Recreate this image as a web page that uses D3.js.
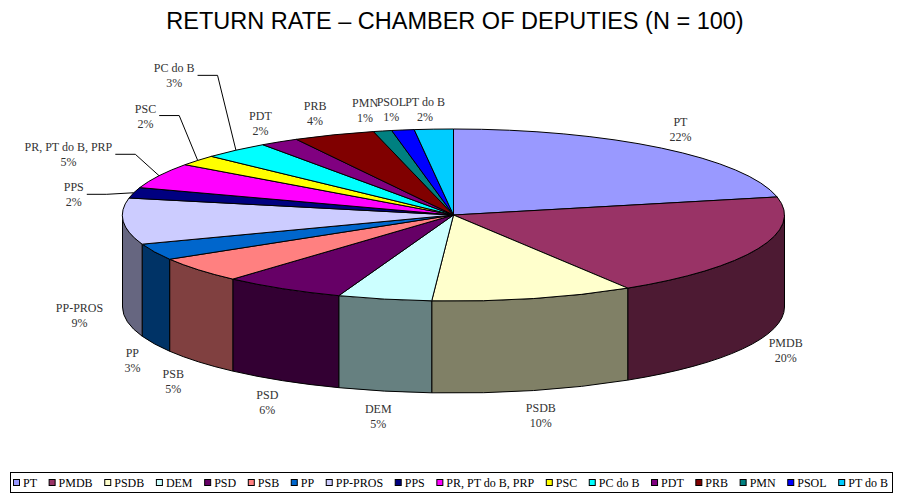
<!DOCTYPE html>
<html>
<head>
<meta charset="utf-8">
<script src="https://cdn.jsdelivr.net/npm/d3@7"></script>
<style>
  body { margin: 0; background: #fff; }
  svg { display: block; }
</style>
</head>
<body>
<div id="pie-chart"></div>
<script>
  const parties = ["PT", "PMDB", "PSDB", "DEM", "PSD", "PSB", "PP", "PP-PROS", "PPS",
    "PR, PT do B, PRP", "PSC", "PC do B", "PDT", "PRB", "PMN", "PSOL", "PT do B"];
  const values = [21.7, 19.6, 9.9, 4.6, 6.0, 4.8, 3.1, 8.7, 2.0, 4.8, 2.0, 3.3, 1.9, 4.0, 0.9, 1.1, 1.9];
  const colors = ["#9999FF", "#993366", "#FFFFCC", "#CCFFFF", "#660066", "#FF8080", "#0066CC",
    "#CCCCFF", "#000080", "#FF00FF", "#FFFF00", "#00FFFF", "#800080", "#800000", "#008080",
    "#0000FF", "#00CCFF"];

  // labels that were dragged by hand in the original (offset in px), some with leader lines
  const labelNudge = {
    "PP-PROS": [-14, 0], "PPS": [-31, 8], "PR, PT do B, PRP": [-64, -10], "PSC": [-29, -29],
    "PC do B": [-42, -56], "PDT": [-3, 2], "PRB": [-8, 2], "PMN": [-11, 3], "PSOL": [-7, 4],
    "PT do B": [-7, 5], "PP": [5, 5], "PSB": [-2, 3]
  };
  const leaders = ["PPS", "PR, PT do B, PRP", "PSC", "PC do B"];

  function drawPie() {
    const width = 897;
    const height = 494;
    const cx = 453.5, cy = 215, rx = 331, ry = 86, depth = 92;

    const svg = d3.select("#pie-chart")
      .append("svg")
      .attr("width", width)
      .attr("height", height);

    svg.append("rect").attr("width", width).attr("height", height).attr("fill", "#fff");

    svg.append("text")
      .attr("x", 455)
      .attr("y", 29)
      .attr("text-anchor", "middle")
      .style("font-family", "Liberation Sans, Arial, sans-serif")
      .style("font-size", "23.5px")
      .text("RETURN RATE \u2013 CHAMBER OF DEPUTIES (N = 100)");

    const data = parties.map((p, i) => ({ name: p, value: values[i], color: colors[i] }));
    const total = d3.sum(values);
    const arcs = d3.pie().sort(null).value(d => d.value)(data);

    const pt = (a, dy = 0) => [cx + rx * Math.sin(a), cy - ry * Math.cos(a) + dy];

    // side walls, only the front half is visible
    const walls = svg.append("g");
    arcs.forEach(d => {
      const b0 = Math.max(d.startAngle, Math.PI / 2);
      const b1 = Math.min(d.endAngle, 3 * Math.PI / 2);
      if (b1 <= b0) return;
      const c = d3.rgb(d.data.color);
      const side = d3.rgb(c.r * 0.5, c.g * 0.5, c.b * 0.5);
      const path = `M${pt(b0)} A${rx},${ry} 0 0 1 ${pt(b1)} L${pt(b1, depth)} A${rx},${ry} 0 0 0 ${pt(b0, depth)} Z`;
      walls.append("path")
        .attr("d", path)
        .attr("fill", side)
        .attr("stroke", "#000")
        .attr("stroke-width", 1)
        .attr("stroke-linejoin", "round");
    });

    // top face
    svg.append("g")
      .selectAll("path")
      .data(arcs)
      .join("path")
      .attr("d", d => {
        const large = d.endAngle - d.startAngle > Math.PI ? 1 : 0;
        return `M${cx},${cy} L${pt(d.startAngle)} A${rx},${ry} 0 ${large} 1 ${pt(d.endAngle)} Z`;
      })
      .attr("fill", d => d.data.color)
      .attr("stroke", "#000")
      .attr("stroke-width", 1)
      .attr("stroke-linejoin", "round");

    // data labels
    const labels = svg.append("g")
      .style("font-family", "Liberation Serif, 'Times New Roman', serif")
      .style("font-size", "12px")
      .attr("fill", "#333");

    arcs.forEach(d => {
      const a = (d.startAngle + d.endAngle) / 2;
      const nudge = labelNudge[d.data.name] || [0, 0];
      let lx = cx + (rx + 30) * Math.sin(a) + nudge[0];
      let ly = cy - (ry + 25) * Math.cos(a) + (Math.cos(a) < 0 ? depth : 0) + nudge[1];

      const g = labels.append("g");
      const name = g.append("text")
        .attr("x", lx).attr("y", ly - 3)
        .attr("text-anchor", "middle")
        .text(d.data.name);
      g.append("text")
        .attr("x", lx).attr("y", ly + 12)
        .attr("text-anchor", "middle")
        .text(Math.round(d.value / total * 100) + "%");

      if (leaders.includes(d.data.name)) {
        const right = lx + name.node().getComputedTextLength() / 2 + 3;
        const edge = pt(a);
        svg.append("polyline")
          .attr("points", `${right},${ly} ${right + 20},${ly} ${edge}`)
          .attr("fill", "none")
          .attr("stroke", "#000")
          .attr("stroke-width", 1);
      }
    });

    // legend
    const legend = svg.append("g")
      .style("font-family", "Liberation Serif, 'Times New Roman', serif")
      .style("font-size", "12px");

    legend.append("rect")
      .attr("x", 10.5).attr("y", 472.5)
      .attr("width", 882).attr("height", 20)
      .attr("fill", "#fff")
      .attr("stroke", "#000");

    const items = data.map(d => {
      const t = legend.append("text").attr("y", 487).text(d.name);
      return { d, t, w: t.node().getComputedTextLength() };
    });
    const left = 13, rightEnd = 888;
    const used = d3.sum(items, it => 7 + 3 + it.w);
    const gap = (rightEnd - left - used) / (items.length - 1);
    let x = left;
    items.forEach(it => {
      legend.append("rect")
        .attr("x", x + 0.5).attr("y", 479.5)
        .attr("width", 6).attr("height", 6)
        .attr("fill", it.d.color)
        .attr("stroke", "#000");
      it.t.attr("x", x + 10);
      x += 10 + it.w + gap;
    });
  }

  drawPie();
</script>
</body>
</html>
